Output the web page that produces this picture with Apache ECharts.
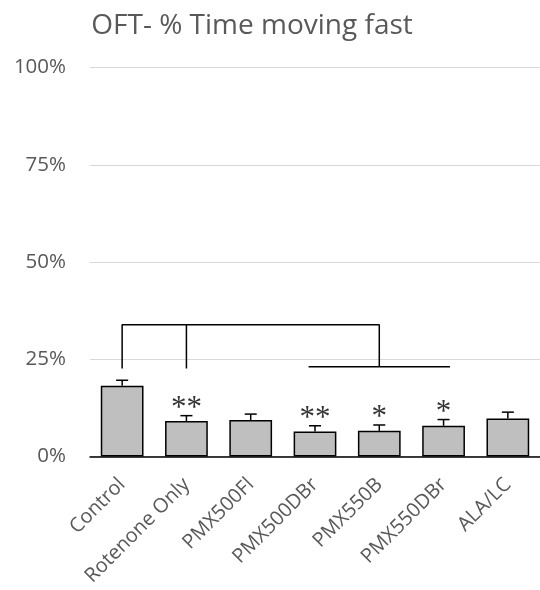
<!DOCTYPE html>
<html><head><meta charset="utf-8">
<script src="https://cdn.jsdelivr.net/npm/echarts@6/dist/echarts.min.js"></script>
<style>html,body{margin:0;padding:0;background:#fff}#c{width:540px;height:590px}</style>
</head><body><div id="c"></div>
<script>
var categories = ['Control','Rotenone Only','PMX500Fl','PMX500DBr','PMX550B','PMX550DBr','ALA/LC'];
var means = [18.2, 9.1, 9.4, 6.4, 6.6, 7.9, 9.8];
var errors = [1.4, 1.4, 1.5, 1.5, 1.5, 1.6, 1.6];
var stars = ['', '**', '', '**', '*', '*', ''];
var yTicks = [0, 25, 50, 75, 100];
// significance brackets, in (category index, percent) units
var bracketUpper = [[0,22.6],[0,33.9],[4,33.9],[4,23.1]];
var bracketDrop = [[1,33.9],[1,22.6]];
var bracketLower = [[2.9,23.1],[5.1,23.1]];

var chart = echarts.init(document.getElementById('c'));
var txt = '#595959';
var lineData = bracketUpper.concat([['-','-']], bracketDrop, [['-','-']], bracketLower);
chart.setOption({
  animation: false,
  title: {
    text: 'OFT- % Time moving fast', left: 247, top: 7, textAlign: 'center',
    textStyle: {fontFamily: 'Open Sans', fontSize: 28, fontWeight: 'normal', color: txt}
  },
  grid: {left: 90, top: 67.5, width: 452, bottom: 133.5},
  xAxis: [{
    type: 'category', data: categories,
    axisLine: {lineStyle: {color: '#000', width: 1.5}},
    axisTick: {show: false},
    axisLabel: {rotate: 45, interval: 0, fontFamily: 'Open Sans', fontSize: 20, color: txt, margin: 25}
  }, {
    type: 'value', min: -0.5, max: 6.5, show: false
  }],
  yAxis: {
    type: 'value', min: 0, max: 100, interval: 25,
    axisLine: {show: false}, axisTick: {show: false},
    splitLine: {lineStyle: {color: '#d9d9d9', width: 1}},
    axisLabel: {formatter: function(v){return yTicks.indexOf(v) >= 0 ? v + '%' : '';}, fontFamily: 'Open Sans', fontSize: 20.5, color: txt, margin: 24}
  },
  series: [{
    type: 'bar', data: means, barCategoryGap: '33.5%',
    itemStyle: {color: '#bfbfbf', borderColor: '#000', borderWidth: 1.5}
  }, {
    type: 'custom', z: 5,
    data: means.map(function(m, i){ return [i, m, m + errors[i]]; }),
    renderItem: function(params, api){
      var p0 = api.coord([api.value(0), api.value(1)]);
      var p1 = api.coord([api.value(0), api.value(2)]);
      var s = {stroke: '#000', lineWidth: 1.5};
      return {type: 'group', children: [
        {type: 'line', shape: {x1: p0[0], y1: p0[1], x2: p1[0], y2: p1[1]}, style: s},
        {type: 'line', shape: {x1: p1[0]-6, y1: p1[1], x2: p1[0]+6, y2: p1[1]}, style: s}
      ]};
    }
  }, {
    type: 'custom', z: 6,
    data: means.map(function(m, i){ return [i, m + errors[i]]; }),
    renderItem: function(params, api){
      var i = api.value(0);
      if (!stars[i]) return null;
      var p = api.coord([i, api.value(1)]);
      return {type: 'text', style: {text: stars[i], x: p[0], y: p[1] - 7, align: 'center', verticalAlign: 'middle',
        font: '31px "Liberation Serif"', fill: '#333'}};
    }
  }, {
    type: 'line', xAxisIndex: 1, data: lineData, symbol: 'none', connectNulls: false,
    lineStyle: {color: '#000', width: 1.5}, z: 4
  }]
});
</script></body></html>
